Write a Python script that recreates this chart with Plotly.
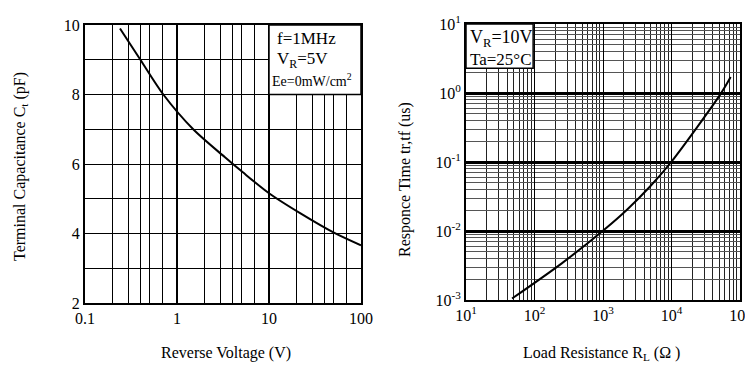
import plotly.graph_objects as go

# left chart: terminal capacitance vs reverse voltage
voltage = [0.24, 0.4, 0.71, 1.5, 3.3, 5.2, 10, 22, 52, 100]
capacitance = [9.9, 9.0, 8.0, 7.0, 6.2, 5.76, 5.16, 4.58, 4.01, 3.66]
v_ticks = [0.1, 1, 10, 100]
v_ticktext = ["0.1", "1", "10", "100"]
c_ticks = [2, 4, 6, 8, 10]

# right chart: response time vs load resistance
load_res = [47, 250, 1060, 2200, 4900, 9900, 52500, 73000]
resp_time = [1.05e-3, 3.4e-3, 1.06e-2, 2.0e-2, 4.45e-2, 0.1, 0.98, 1.7]
r_ticks = [1e1, 1e2, 1e3, 1e4, 1e5]
r_ticktext = ["10<sup>1</sup>", "10<sup>2</sup>", "10<sup>3</sup>", "10<sup>4</sup>", "10<sup>5</sup>"]
t_ticks = [1e-3, 1e-2, 1e-1, 1e0, 1e1]
t_ticktext = ["10<sup>-3</sup>", "10<sup>-2</sup>", "10<sup>-1</sup>", "10<sup>0</sup>", "10<sup>1</sup>"]

FONT = "Liberation Serif"
W, H = 745, 362  # page body adds an 8px offset


def px_x(x):
    return (x - 8) / W


def px_y(y):
    return 1 - (y - 8) / H


fig = go.Figure()
fig.add_trace(go.Scatter(x=voltage, y=capacitance, mode="lines",
                         line=dict(color="black", width=2, shape="spline", smoothing=0.8),
                         xaxis="x", yaxis="y"))
fig.add_trace(go.Scatter(x=load_res, y=resp_time, mode="lines",
                         line=dict(color="black", width=2, shape="spline", smoothing=0.8),
                         xaxis="x2", yaxis="y2"))

v_minor = [m * d for d in (0.1, 1, 10) for m in (2, 3, 4, 5, 7)]
r_minor = [m * 10 ** e for e in range(1, 5) for m in range(2, 10)]
t_minor = [m * 10.0 ** e for e in range(-3, 1) for m in range(2, 10)]

axis_common = dict(showline=True, mirror=True, linecolor="black", linewidth=2,
                   gridcolor="black", zeroline=False, ticks="", automargin=False,
                   tickfont=dict(family=FONT, size=16, color="black"))

fig.update_layout(
    width=W, height=H,
    margin=dict(l=0, r=0, t=0, b=0, pad=0),
    paper_bgcolor="white", plot_bgcolor="white",
    showlegend=False,
    font=dict(family=FONT, color="black"),
    xaxis=dict(axis_common, type="log", domain=[px_x(85), px_x(361)], range=[-1, 2],
               tickvals=v_ticks, ticktext=v_ticktext, gridwidth=1.8,
               minor=dict(tickvals=v_minor, showgrid=True, gridcolor="black", gridwidth=1.4),
               anchor="y"),
    yaxis=dict(axis_common, domain=[px_y(303), px_y(25)], range=[2, 10],
               tickvals=c_ticks, gridwidth=1.4,
               minor=dict(dtick=1, showgrid=True, gridcolor="black", gridwidth=1.4),
               anchor="x"),
    xaxis2=dict(axis_common, type="log", domain=[px_x(466), px_x(740)], range=[1, 5],
                tickvals=r_ticks, ticktext=r_ticktext, gridwidth=1.4,
                minor=dict(tickvals=r_minor, showgrid=True, gridcolor="#222", gridwidth=1),
                anchor="y2"),
    yaxis2=dict(axis_common, type="log", domain=[px_y(300), px_y(24)], range=[-3, 1],
                tickvals=t_ticks, ticktext=t_ticktext, gridwidth=3,
                minor=dict(tickvals=t_minor, showgrid=True, gridcolor="#555", gridwidth=0.9),
                anchor="x2"),
)

# condition boxes
fig.add_shape(type="rect", xref="x domain", yref="y domain", x0=2 / 3, x1=1, y0=0.75, y1=1,
              fillcolor="white", line=dict(color="black", width=1.5), layer="above")
fig.add_shape(type="rect", xref="x2 domain", yref="y2 domain", x0=0, x1=0.245, y0=0.84, y1=1,
              fillcolor="white", line=dict(color="black", width=1.5), layer="above")

notes = [
    ("x domain", "y domain", 0.69, 0.952, "f=1MHz", 17),
    ("x domain", "y domain", 0.69, 0.874, "V<sub>R</sub>=5V", 17),
    ("x domain", "y domain", 0.67, 0.802, "Ee=0mW/cm<sup>2</sup>", 14),
    ("x2 domain", "y2 domain", 0.008, 0.948, "V<sub>R</sub>=10V", 18),
    ("x2 domain", "y2 domain", 0.008, 0.872, "Ta=25°C", 17),
]
for xr, yr, x, y, txt, sz in notes:
    fig.add_annotation(xref=xr, yref=yr, x=x, y=y, text=txt, showarrow=False,
                       xanchor="left", yanchor="middle",
                       font=dict(family=FONT, size=sz, color="black"))

# axis titles
titles = [
    (20, 167, "Terminal Capacitance C<sub>t</sub> (pF)", -90),
    (226, 353, "Reverse Voltage (V)", 0),
    (405, 180, "Responce Time tr,tf (us)", -90),
    (601, 353, "Load Resistance R<sub>L</sub> (Ω )", 0),
]
for px, py, txt, ang in titles:
    fig.add_annotation(xref="paper", yref="paper", x=px_x(px), y=px_y(py), text=txt,
                       showarrow=False, textangle=ang, xanchor="center", yanchor="middle",
                       font=dict(family=FONT, size=16, color="black"))

fig.write_html("out.html")
